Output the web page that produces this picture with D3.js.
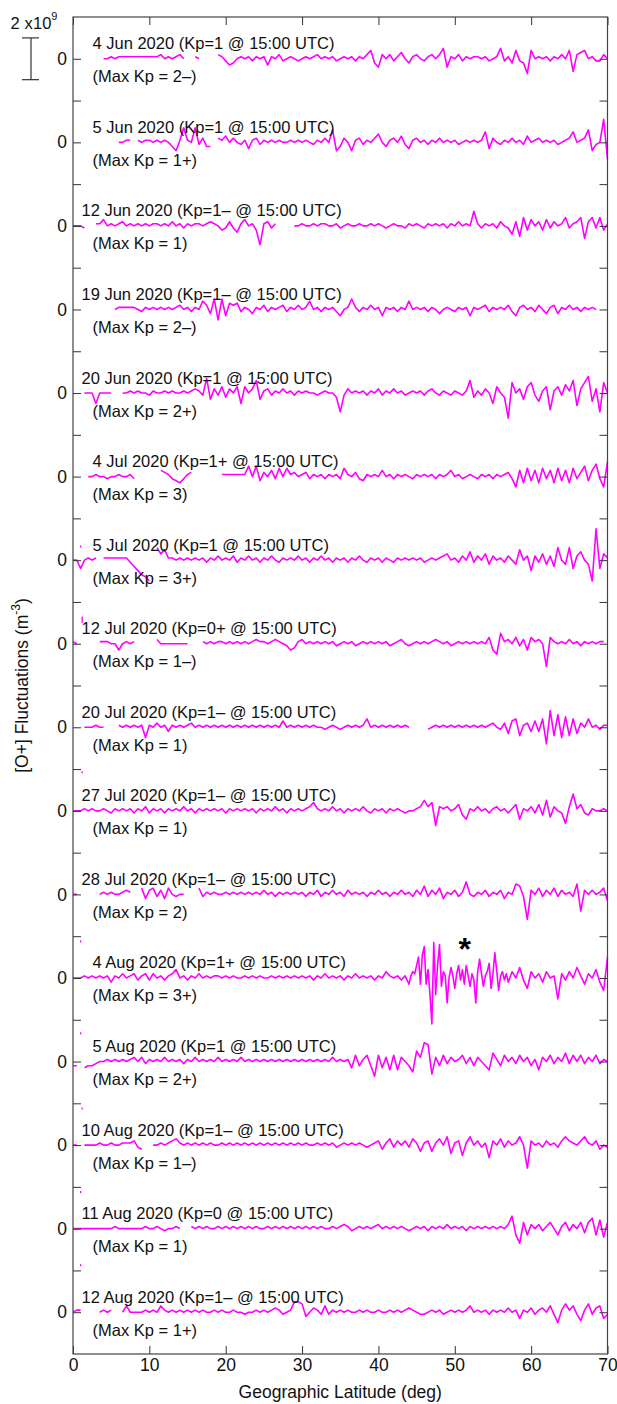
<!DOCTYPE html>
<html>
<head>
<meta charset="utf-8">
<script src="https://cdn.jsdelivr.net/npm/d3@7"></script>
<style>
  body { margin: 0; background: #fff; }
  svg { display: block; font-family: "Liberation Sans", Arial, Helvetica, sans-serif; }
</style>
</head>
<body>
<script>
const _ = null;

// panel labels
const dates = ["4 Jun 2020", "5 Jun 2020", "12 Jun 2020", "19 Jun 2020", "20 Jun 2020", "4 Jul 2020",
  "5 Jul 2020", "12 Jul 2020", "20 Jul 2020", "27 Jul 2020", "28 Jul 2020", "4 Aug 2020",
  "5 Aug 2020", "10 Aug 2020", "11 Aug 2020", "12 Aug 2020"];
const kpAt15 = ["1", "1", "1\u2013", "1\u2013", "1", "1+", "1", "0+", "1\u2013", "1\u2013", "1\u2013", "1+", "1", "1\u2013", "0", "1\u2013"];
const kpMax = ["2\u2013", "1+", "1", "2\u2013", "2+", "3", "3+", "1\u2013", "1", "1", "2", "3+", "2+", "1\u2013", "1", "1+"];

// latitude ticks
const latTicks = [0, 10, 20, 30, 40, 50, 60, 70];

// [O+] fluctuations, units of 1e8 m^-3, sampled every 0.5 deg from 0 to 70 deg
const latGrid = d3.range(0, 70.25, 0.5);

const jun04 = [
  _,_,_,_,_,_,_,_,0,0,1,0,1,1,1,1,1,1,1,1,
  1,1,1,2,0,1,0,1,2,0,_,_,1,0,_,_,_,_,2,1,
  -1,-3,-2,0,1,0,1,-1,1,0,1,-3,1,0,2,-1,0,1,0,-1,
  0,1,0,1,2,0,1,0,1,-1,0,1,0,1,-1,1,0,2,4,-2,
  -4,2,0,2,-1,1,3,0,-2,1,2,0,-1,1,2,0,2,5,-4,1,
  0,2,-1,1,0,1,1,0,1,-1,0,1,5,-1,1,-2,4,-1,-2,-7,
  4,0,1,0,1,-1,1,0,2,0,4,-6,2,3,4,0,1,-1,-1,2,
  0];
const jun05 = [
  _,_,_,_,_,_,_,_,_,_,_,_,0,0,1,1,_,1,0,1,
  1,0,1,0,1,0,-2,-4,1,7,1,0,7,-1,2,-2,-2,_,2,1,
  3,0,2,0,-1,1,-3,1,2,-1,1,0,1,0,1,0,0,1,0,1,
  0,1,0,-1,1,0,2,0,6,-4,-2,2,0,-4,1,2,-1,1,0,2,
  4,0,-2,1,2,0,3,-1,-3,1,2,0,1,-1,1,0,2,0,1,0,
  1,-1,0,1,0,1,0,1,5,-3,2,0,-1,1,0,2,0,1,-1,3,
  0,1,2,0,1,0,1,-1,0,1,2,5,0,1,2,6,-4,-1,0,11,
  -8];
const jun12 = [
  0,0,0,-1,_,_,1,1,3,0,1,0,1,2,0,1,0,1,0,1,
  0,1,1,0,1,0,2,0,1,-1,1,0,1,1,0,1,2,1,0,-2,
  -1,2,-1,-3,1,3,0,1,-2,-9,1,2,-1,1,_,_,_,_,0,0,
  1,0,0,1,0,1,1,0,0,1,-1,0,1,0,0,1,0,0,1,0,
  1,0,-1,0,1,0,0,-1,1,0,1,0,-1,1,0,1,0,1,-1,1,
  0,2,0,1,0,7,1,-1,1,0,1,-1,2,0,-1,-4,2,-5,4,-2,
  3,0,2,-2,3,-1,2,0,1,4,-1,1,2,4,-6,2,4,-1,4,-2,
  1];
const jun19 = [
  _,_,_,_,_,_,_,_,_,_,_,0,1,1,1,1,1,0,-1,1,
  0,1,0,1,0,1,0,1,2,0,1,-1,1,0,4,2,-2,5,-5,5,
  -3,3,2,3,-1,1,0,-2,1,0,2,-1,1,0,1,2,-1,1,0,2,
  0,1,4,0,1,-1,1,0,1,-1,-3,0,1,5,1,-1,1,0,2,0,
  1,-3,1,0,1,-1,1,0,4,0,1,0,1,-1,1,0,-2,0,1,0,
  -1,1,0,1,-3,1,0,1,2,-1,1,0,1,0,2,-1,-3,1,2,0,
  1,-1,2,0,-2,1,2,-2,1,0,2,0,1,-1,1,0,1,0,_,_,
  _];
const jun20 = [
  _,_,_,0,0,0,-5,0,0,0,0,_,_,0,0,1,0,1,0,0,
  -1,1,0,0,1,0,1,0,0,1,0,1,2,1,-1,7,-3,2,-1,3,
  -2,2,0,3,-5,3,0,2,6,-3,1,2,-1,1,0,2,0,1,-1,1,
  0,1,0,0,-1,0,1,0,0,-2,-9,-1,2,0,1,0,1,-1,1,0,
  2,-1,1,0,2,0,1,-1,0,1,0,1,-1,1,2,0,-1,1,0,-1,
  1,0,-1,1,6,-2,1,-1,2,0,-5,3,0,-2,-12,5,0,2,-3,3,
  5,-1,-4,1,3,-8,1,3,-1,4,1,6,-6,2,5,8,-4,2,-9,5,
  0];
const jul04 = [
  _,_,_,_,0,0,1,0,0,-1,0,0,1,0,0,1,-1,_,_,_,
  _,_,_,3,2,1,-1,-2,-3,-1,1,2,_,_,_,_,_,_,_,1,
  1,1,1,1,1,1,5,0,5,-2,2,0,3,-1,4,0,4,1,2,0,
  1,2,-1,1,0,1,-1,1,0,1,-1,4,1,0,2,-1,-2,1,0,1,
  0,3,0,1,-1,1,0,1,0,-1,1,0,1,0,1,-1,1,0,1,3,
  0,1,-1,0,1,0,-1,1,0,1,-1,1,0,1,2,-1,-5,3,-3,4,
  -2,3,-3,4,-1,3,-3,4,-2,3,-3,4,-1,2,5,-2,3,6,-1,-5,
  7];
const jul05 = [
  0,0,-4,0,1,0,1,_,1,1,1,1,1,1,1,-1,-3,-5,-7,-8,
  -10,_,6,3,5,1,1,0,1,0,1,0,1,0,1,-1,1,0,2,0,
  1,0,2,-1,1,0,2,0,1,-1,1,0,2,0,-1,1,0,1,0,2,
  0,1,-1,1,0,2,0,1,-1,1,0,1,-1,1,0,2,0,-1,1,0,
  1,-1,1,0,-1,1,0,1,0,1,0,1,-1,0,1,0,1,2,3,0,
  1,-1,2,0,4,-1,2,0,3,-2,2,0,1,-1,2,0,-2,5,0,2,
  -5,2,-1,3,-2,2,-3,6,0,-2,6,-4,2,4,0,-2,-10,15,-4,3,
  1];
const jul12 = [
  1,0,_,_,_,_,_,1,1,1,0,0,-3,0,1,0,1,_,_,_,
  _,_,2,0,0,0,0,0,0,0,0,_,_,_,1,0,1,0,1,1,
  0,1,0,1,0,1,0,1,2,1,1,0,1,2,1,0,-1,-3,-2,1,
  2,0,1,0,1,0,1,0,1,-1,0,1,0,1,-1,0,1,0,1,0,
  1,0,1,-1,0,1,2,0,-1,0,1,0,1,0,1,2,1,0,1,-1,
  0,1,0,1,0,1,0,1,0,3,-3,-5,5,1,2,0,3,-1,2,-3,
  3,1,2,0,-11,3,1,0,1,0,2,0,1,-1,1,0,1,0,1,1,
  _];
const jul20 = [
  _,_,_,0,0,0,1,0,0,_,_,_,1,0,1,0,1,0,1,-5,
  1,0,2,0,1,-2,1,0,1,0,1,2,0,1,0,1,0,1,0,1,
  0,1,0,1,0,1,0,1,0,1,0,1,0,1,0,3,0,1,0,1,
  0,1,0,1,0,0,-1,0,1,0,-1,0,1,0,1,0,1,4,0,1,
  0,1,0,1,0,1,0,1,0,_,_,_,_,-1,0,1,0,1,0,1,
  0,1,0,1,0,1,0,1,0,1,2,0,-1,2,-3,3,4,-4,1,2,
  -2,3,-2,4,-8,8,-4,6,-5,5,-4,4,-3,2,0,4,0,1,-1,1,
  1];
const jul27 = [
  0,0,0,1,0,1,0,0,1,0,-1,1,0,1,0,1,-1,1,0,2,
  -1,1,0,1,-1,1,0,1,0,2,0,1,-1,1,0,1,0,1,0,1,
  -1,1,0,1,0,1,0,1,-1,1,0,1,0,2,0,1,-1,1,0,1,
  0,1,2,4,1,0,1,0,2,0,1,-1,1,0,1,0,2,0,-1,1,
  0,1,-1,1,0,1,0,-1,0,0,1,2,5,2,4,-7,2,1,2,0,
  1,3,-2,-4,1,0,2,0,1,-1,1,2,0,1,-1,1,3,-4,1,0,
  2,-1,3,-2,5,-3,2,0,-1,-6,2,8,1,3,-1,-2,1,0,0,1,
  0];
const jul28 = [
  0,0,_,_,_,_,_,0,1,0,1,0,0,1,2,1,_,_,3,-2,
  2,3,-1,2,-2,3,0,-1,0,0,_,_,_,3,-1,1,0,1,0,0,
  1,0,1,0,1,0,1,0,1,0,2,0,1,-1,1,0,1,0,1,0,
  1,-1,1,0,2,-1,1,0,2,0,1,-1,2,0,1,0,1,-1,1,0,
  2,0,1,-1,1,0,2,0,1,-1,2,0,4,-1,2,0,3,-2,1,0,
  2,-1,1,6,0,-1,1,0,2,-1,1,0,2,-2,1,0,5,4,-1,-12,
  2,0,3,-1,2,0,3,-1,2,0,1,-1,5,-8,2,0,2,0,1,3,
  -3];
const aug04 = [
  0,0,0,1,0,1,0,1,0,1,-2,1,0,2,0,1,2,-1,1,2,
  -1,2,0,1,-1,1,2,4,0,1,-1,1,0,2,0,1,0,1,1,0,
  1,0,1,0,0,1,0,1,0,1,0,0,1,0,1,0,1,0,1,0,
  1,0,1,-1,1,0,2,0,1,0,1,-1,1,0,2,0,1,0,1,-1,
  1,0,3,1,0,1,-1,1,-3,3,5,11,14,-3,-22,17,16,-3,-11,5,
  -5,6,-3,6,-4,1,-12,9,-4,7,-5,12,-6,2,-2,3,0,5,-1,-5,
  3,0,2,-2,3,0,1,-10,2,-1,3,0,5,1,-3,2,0,4,-2,-6,
  10];
// 4 Aug disturbance read at 0.25 deg, 44 to 57 deg
const aug04Storm = [
  -3,1,3,2,6,10,-3,11,15,-3,4,-8,-22,17,-8,6,16,-4,3,1,
  -12,0,5,1,-5,2,6,-1,4,-3,6,1,-4,2,-1,-12,3,9,2,-4,
  1,3,7,-5,2,12,3,-6,1,3,-1,2,-2];
const stormLat = d3.range(44, 57.01, 0.25);
const aug05 = [
  -2,-2,_,-3,-2,-2,-1,0,0,1,0,1,0,1,0,1,2,0,2,-1,
  1,0,1,0,2,0,1,0,1,-1,1,0,2,0,1,0,1,0,2,0,
  1,0,1,0,2,0,1,0,1,0,1,0,1,0,1,0,1,0,1,0,
  1,0,1,0,1,0,1,0,2,0,1,0,1,-3,3,-2,1,3,-2,-7,
  3,-3,2,-4,3,-4,2,0,-2,-5,5,2,9,8,-6,2,-2,3,-1,2,
  0,1,3,-1,2,-2,2,0,-2,-4,4,1,-2,3,0,2,-1,3,0,2,
  -2,1,-4,2,0,3,-1,2,0,4,-1,3,0,3,-1,2,0,3,-1,1,
  0];
const aug10 = [
  0,0,_,0,0,0,0,1,0,0,1,0,0,1,1,1,2,-1,-2,_,
  _,0,0,1,0,1,2,3,1,0,1,0,1,0,1,0,1,0,0,1,
  0,1,0,1,0,1,0,1,0,1,0,1,0,1,0,1,0,1,0,1,
  0,1,0,0,1,0,1,0,1,-1,0,1,0,1,0,1,0,-1,0,1,
  2,-2,1,3,-1,2,0,2,-1,3,1,-3,1,2,-3,1,3,0,4,-4,
  1,2,-5,1,4,0,2,-1,1,-6,2,0,3,-1,2,0,1,4,0,-11,
  2,0,1,-1,2,0,1,-1,2,4,2,1,0,2,4,1,0,2,-2,0,
  -1];
const aug11 = [
  0,0,0,0,0,0,0,0,0,0,0,1,0,0,0,0,0,0,0,1,
  0,0,1,0,-1,0,0,1,0,_,_,1,0,1,0,1,0,0,1,0,
  1,0,1,0,1,0,1,0,1,0,0,1,0,1,0,1,0,1,0,1,
  0,1,0,1,0,1,0,0,1,0,1,2,1,-1,0,1,0,1,0,1,
  2,0,1,0,1,0,1,0,-1,0,1,0,1,-1,1,0,1,0,2,0,
  1,0,1,-1,1,0,1,0,1,0,1,0,1,0,2,6,-3,-7,3,-3,
  2,0,2,-1,1,3,0,-3,1,3,-1,2,0,3,-2,3,5,-3,4,-4,
  3];
const aug12 = [
  0,1,1,_,_,_,_,0,1,0,1,_,_,0,3,0,0,0,0,1,
  0,1,0,3,1,0,1,0,1,0,1,0,1,0,1,0,0,1,0,1,
  0,0,1,0,0,-1,0,0,1,0,1,0,1,2,1,-1,0,1,5,5,
  4,-2,0,2,1,-1,3,-1,1,0,1,0,1,0,0,1,0,1,0,0,
  1,0,0,1,0,1,0,1,2,1,0,-1,-1,0,1,0,1,-1,0,1,
  0,1,0,1,3,0,1,0,1,-1,1,0,1,0,2,0,1,-3,1,0,
  2,-1,1,2,0,3,-1,-5,1,4,1,3,-1,-4,1,4,-1,2,3,-3,
  -1];

const traces = [jun04, jun05, jun12, jun19, jun20, jul04, jul05, jul12,
  jul20, jul27, jul28, aug04, aug05, aug10, aug11, aug12];
const stormPanel = 11;

// short isolated strokes near the left edge: panel index, latitude, low, high (1e8 m^-3)
const strayPanel = [6, 7, 9, 11, 12, 13, 14, 14];
const strayLat = [1.0, 1.2, 1.2, 1.0, 1.0, 1.2, 1.0, 1.0];
const strayLo = [6, 10, 18, 17, 13, 17, 17, -18];
const strayHi = [7, 13, 19, 18, 14, 18, 18, -17];

const W = 617, H = 1404;
const mL = 73, mR = 607.5, mT = 17, mB = 1354;
const nP = traces.length;
const font = "'Liberation Sans', Arial, Helvetica, sans-serif";

const svg = d3.select("body").append("svg")
    .attr("width", W)
    .attr("height", H);

svg.append("rect").attr("width", W).attr("height", H).attr("fill", "#fff");

const x = d3.scaleLinear().domain([0, 70]).range([mL, mR]);
const band = d3.scaleLinear().domain([0, nP]).range([mT, mB]);
const yPanel = i => d3.scaleLinear().domain([-20, 20]).range([band(i + 1), band(i)]);

const axisColor = "#333";

// traces
const line = d3.line()
    .defined(d => d.v != null)
    .x(d => x(d.lat))
    .y(d => d.y);

traces.forEach((vals, i) => {
  const y = yPanel(i);
  let pts = latGrid.map((lat, k) => ({lat: lat, v: vals[k]}));
  if (i === stormPanel) {
    pts = pts.filter(p => p.lat < 44 || p.lat > 57)
        .concat(stormLat.map((lat, k) => ({lat: lat, v: aug04Storm[k]})))
        .sort((a, b) => a.lat - b.lat);
  }
  pts.forEach(p => { p.y = p.v == null ? 0 : y(p.v); });
  svg.append("path")
      .datum(pts)
      .attr("d", line)
      .attr("fill", "none")
      .attr("stroke", "#ff00ff")
      .attr("stroke-width", 1.6)
      .attr("stroke-linejoin", "round");
});

strayPanel.forEach((p, k) => {
  const y = yPanel(p);
  svg.append("line")
      .attr("x1", x(strayLat[k])).attr("x2", x(strayLat[k]))
      .attr("y1", y(strayLo[k])).attr("y2", y(strayHi[k]))
      .attr("stroke", "#ff00ff")
      .attr("stroke-width", 1.3);
});

// panel labels
dates.forEach((d, i) => {
  const y0 = band(i + 0.5);
  const tx = d.split(" ")[0].length > 1 ? 81.5 : 92.5;
  svg.append("text")
      .attr("x", tx)
      .attr("y", y0 - 9.5)
      .attr("font-size", 16.5)
      .attr("fill", "#111")
      .text(`${d} (Kp=${kpAt15[i]} @ 15:00 UTC)`);
  svg.append("text")
      .attr("x", 92.5)
      .attr("y", y0 + 23.5)
      .attr("font-size", 16.5)
      .attr("fill", "#111")
      .text(`(Max Kp = ${kpMax[i]})`);
});

// axes
const bandTicks = d3.range(1, nP).concat(d3.range(0.5, nP, 1));

svg.append("g")
    .attr("transform", `translate(0,${mB})`)
    .call(d3.axisBottom(x).tickValues(latTicks).tickSize(-8).tickPadding(5));
svg.append("g")
    .attr("transform", `translate(0,${mT})`)
    .call(d3.axisTop(x).tickValues(latTicks).tickSize(-8).tickFormat(""));
svg.append("g")
    .attr("transform", `translate(${mL},0)`)
    .call(d3.axisLeft(band).tickValues(bandTicks).tickSize(-8).tickPadding(6)
        .tickFormat(v => v % 1 ? "0" : ""));
svg.append("g")
    .attr("transform", `translate(${mR},0)`)
    .call(d3.axisRight(band).tickValues(bandTicks).tickSize(-8).tickFormat(""));

svg.selectAll(".domain").remove();
svg.selectAll(".tick line").attr("stroke", axisColor);
svg.selectAll(".tick text").attr("font-size", 17.5).attr("fill", "#111")
    .attr("font-family", font);

svg.append("rect")
    .attr("x", mL).attr("y", mT)
    .attr("width", mR - mL).attr("height", mB - mT)
    .attr("fill", "none")
    .attr("stroke", "#444")
    .attr("stroke-width", 1.2);

// axis titles
svg.append("text")
    .attr("x", (mL + mR) / 2)
    .attr("y", 1398)
    .attr("text-anchor", "middle")
    .attr("font-size", 17.5)
    .attr("fill", "#111")
    .text("Geographic Latitude (deg)");

const yl = svg.append("text")
    .attr("transform", `translate(28,${(mT + mB) / 2}) rotate(-90)`)
    .attr("text-anchor", "middle")
    .attr("font-size", 17.5)
    .attr("fill", "#111");
yl.append("tspan").text("[O+] Fluctuations (m");
yl.append("tspan").attr("font-size", 12).attr("dy", -8).text("-3");
yl.append("tspan").attr("dy", 8).text(")");

// scale bar: 2 x 10^9 = 20 units of 1e8
const ys = yPanel(0);
const sb = svg.append("g").attr("stroke", axisColor).attr("stroke-width", 1.2);
sb.append("line").attr("x1", 31).attr("x2", 31).attr("y1", ys(10)).attr("y2", ys(-10));
sb.append("line").attr("x1", 22).attr("x2", 39).attr("y1", ys(10)).attr("y2", ys(10));
sb.append("line").attr("x1", 22).attr("x2", 39).attr("y1", ys(-10)).attr("y2", ys(-10));

const sl = svg.append("g").attr("font-size", 16.5).attr("fill", "#111");
sl.append("text").attr("x", 10.5).attr("y", 29).text("2");
sl.append("text").attr("x", 24.5).attr("y", 29).text("x");
const sl10 = sl.append("text").attr("x", 33).attr("y", 29);
sl10.append("tspan").text("10");
sl10.append("tspan").attr("font-size", 11).attr("dy", -9).text("9");

// event marker on 4 Aug
svg.append("text")
    .attr("x", x(51.3))
    .attr("y", yPanel(stormPanel)(8.5))
    .attr("text-anchor", "middle")
    .attr("font-size", 32)
    .attr("font-weight", "bold")
    .attr("fill", "#000")
    .text("*");
</script>
</body>
</html>
